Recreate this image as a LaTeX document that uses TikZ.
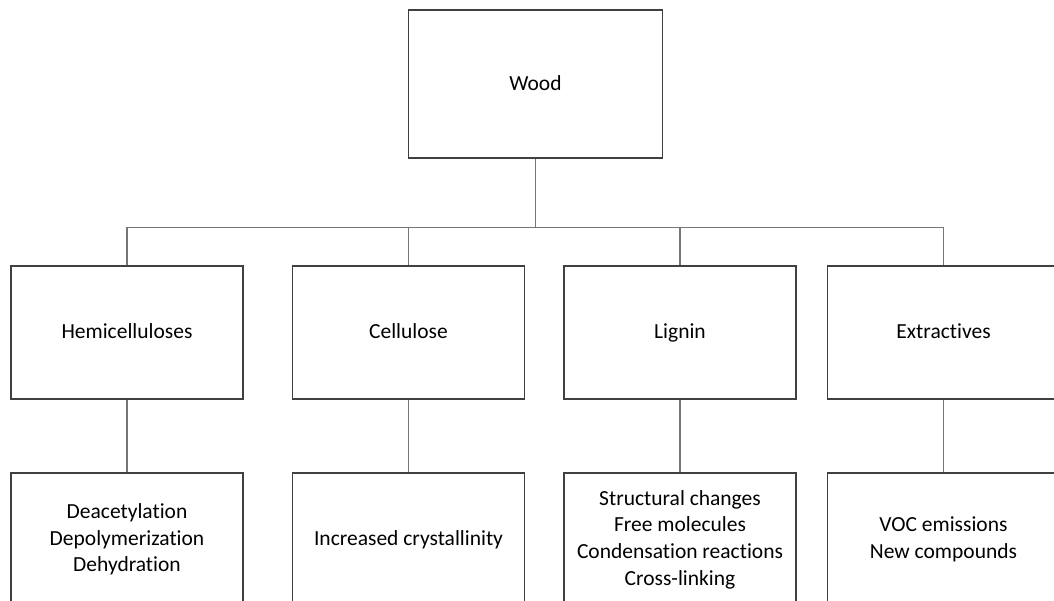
\documentclass[tikz,border=0pt]{standalone}
\usepackage{fontspec}
\setmainfont{Carlito}[Ligatures={NoCommon,NoRare,NoContextual}]
\definecolor{boxline}{RGB}{64,64,64}
\definecolor{linkgray}{RGB}{118,118,118}

\begin{document}
\begin{tikzpicture}[x=1pt, y=-1pt,
    part/.style={draw=boxline, line width=1.2pt, fill=white, minimum width=232pt, minimum height=133pt, align=center, inner sep=0pt, font=\fontsize{21.5}{26.7}\selectfont},
    onerow/.style={part, text height=2.6ex, text depth=0pt},
    link/.style={draw=linkgray, line width=1.3pt}]

  % Frame
  \useasboundingbox (0,0) rectangle (1054,600);
  \clip (0,0) rectangle (1054,600);

  % Top box
  \node[onerow, minimum width=254pt, minimum height=148pt] (wood) at (535.5,84) {Wood};

  % Components
  \node[onerow] (hemi) at (127,332.5) {Hemicelluloses};
  \node[onerow] (cell) at (408.5,332.5) {Cellulose};
  \node[onerow] (lign) at (680,332.5) {Lignin};
  \node[onerow] (extr) at (943.5,332.5) {Extractives};

  % Effects
  \node[part] (hemifx) at (127,539.5) {Deacetylation\\Depolymerization\\Dehydration};
  \node[part] (cellfx) at (408.5,539.5) {Increased crystallinity};
  \node[part] (lignfx) at (680,539.5) {Structural changes\\Free molecules\\Condensation reactions\\Cross-linking};
  \node[part] (extrfx) at (943.5,539.5) {VOC emissions\\New compounds};

  % Tree
  \coordinate (bus) at (535.5,227.5);
  \draw[link] (wood.south) -- (bus);
  \draw[link] (hemi.north) |- (bus) -| (extr.north);
  \draw[link] (cell.north) -- (cell.north |- bus);
  \draw[link] (lign.north) -- (lign.north |- bus);

  \draw[link] (hemi.south) -- (hemifx.north);
  \draw[link] (cell.south) -- (cellfx.north);
  \draw[link] (lign.south) -- (lignfx.north);
  \draw[link] (extr.south) -- (extrfx.north);

\end{tikzpicture}
\end{document}
